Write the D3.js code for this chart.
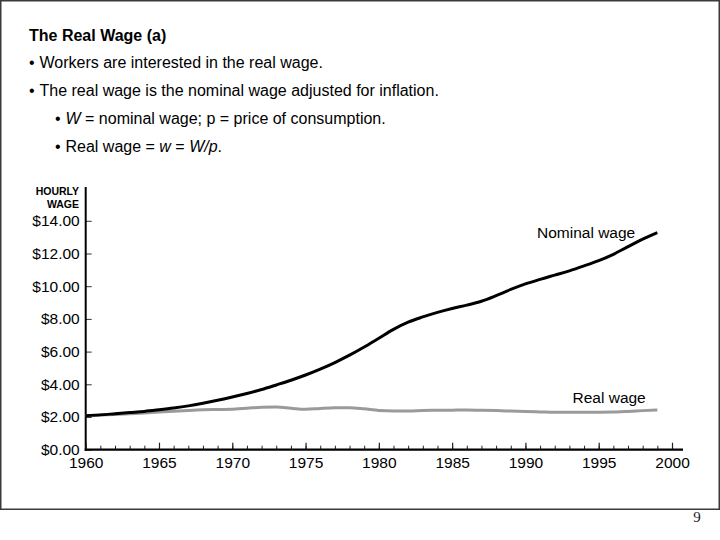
<!DOCTYPE html>
<html>
<head>
<meta charset="utf-8">
<script src="https://cdn.jsdelivr.net/npm/d3@7/dist/d3.min.js"></script>
<style>
  html, body { margin: 0; padding: 0; background: #fff; }
  svg { display: block; font-family: "Liberation Sans", Arial, Helvetica, sans-serif; }
</style>
</head>
<body>
<svg id="chart" width="720" height="540"></svg>
<script>
// ---- Data ----
const years = d3.range(1960, 2000); // 1960..1999
const nominalWage = [2.08, 2.13, 2.20, 2.27, 2.34, 2.44, 2.55, 2.68, 2.84, 3.02,
                     3.22, 3.44, 3.68, 3.96, 4.25, 4.57, 4.93, 5.33, 5.78, 6.28,
                     6.82, 7.36, 7.80, 8.12, 8.40, 8.64, 8.84, 9.08, 9.42, 9.80,
                     10.14, 10.42, 10.68, 10.94, 11.24, 11.56, 11.95, 12.42, 12.88, 13.28];
const realWage = [2.08, 2.12, 2.16, 2.20, 2.25, 2.30, 2.35, 2.40, 2.44, 2.46,
                  2.48, 2.53, 2.60, 2.61, 2.54, 2.47, 2.52, 2.56, 2.57, 2.50,
                  2.40, 2.37, 2.37, 2.40, 2.41, 2.42, 2.43, 2.41, 2.39, 2.36,
                  2.33, 2.31, 2.29, 2.29, 2.29, 2.29, 2.30, 2.34, 2.39, 2.43];
const yTicks = [0, 2, 4, 6, 8, 10, 12, 14];
const xMajorTicks = [1960, 1965, 1970, 1975, 1980, 1985, 1990, 1995, 2000];
const xMinorTicks = d3.range(1960, 2001);
const seriesLabels = ["Nominal wage", "Real wage"];

const svg = d3.select("#chart");

// Frame
svg.append("rect").attr("x", 0.75).attr("y", 0.75).attr("width", 718.5).attr("height", 508.5)
  .attr("fill", "none").attr("stroke", "#3a3a3a").attr("stroke-width", 1.5);

// Page number
svg.append("text").attr("x", 697).attr("y", 522).attr("text-anchor", "middle")
  .attr("font-family", "'Liberation Serif', 'DejaVu Serif', serif").attr("font-size", 15)
  .attr("fill", "#222").text("9");

// Title and bullets
svg.append("text").attr("x", 29).attr("y", 40.5).attr("font-size", 16).attr("font-weight", "bold")
  .text("The Real Wage (a)");

function bullet(x, y, parts) {
  svg.append("text").attr("x", x).attr("y", y).attr("font-size", 16).text("•");
  const t = svg.append("text").attr("x", x + 10.5).attr("y", y).attr("font-size", 16);
  parts.forEach(p => {
    t.append("tspan").attr("font-style", p.i ? "italic" : null).text(p.t);
  });
}
bullet(29, 68, [{t: "Workers are interested in the real wage."}]);
bullet(29, 96, [{t: "The real wage is the nominal wage adjusted for inflation."}]);
bullet(55, 124, [{t: "W", i: true}, {t: " = nominal wage; p = price of consumption."}]);
bullet(55, 151.5, [{t: "Real wage = "}, {t: "w", i: true}, {t: " = "}, {t: "W/p", i: true}, {t: "."}]);

// ---- Chart ----
const x = d3.scaleLinear().domain([1960, 2000]).range([85.7, 672]);
const y = d3.scaleLinear().domain([0, 14]).range([449.7, 220.8]);

// Y axis
const yAxis = d3.axisLeft(y).tickValues(yTicks).tickSizeInner(-6).tickSizeOuter(0).tickPadding(6)
  .tickFormat(d => "$" + d3.format(".2f")(d));
const gy = svg.append("g").attr("transform", `translate(${x(1960)},0)`).call(yAxis);
gy.select(".domain").remove();
gy.selectAll(".tick line").attr("stroke", "#333").attr("stroke-width", 1);
gy.selectAll(".tick text").attr("font-size", 15.5).attr("fill", "#000")
  .attr("font-family", "'Liberation Sans', Arial, sans-serif");
svg.append("line").attr("x1", x(1960)).attr("x2", x(1960)).attr("y1", 187).attr("y2", y(0) + 1)
  .attr("stroke", "#000").attr("stroke-width", 2);

// Y axis title
svg.append("text").attr("x", 79).attr("y", 195).attr("text-anchor", "end")
  .attr("font-size", 10.5).attr("font-weight", "bold").text("HOURLY");
svg.append("text").attr("x", 79).attr("y", 207.5).attr("text-anchor", "end")
  .attr("font-size", 10.5).attr("font-weight", "bold").text("WAGE");

// X axis: minor ticks
const gxMinor = svg.append("g").attr("transform", `translate(0,${y(0)})`)
  .call(d3.axisBottom(x).tickValues(xMinorTicks).tickSizeInner(-4).tickSizeOuter(0).tickFormat(""));
gxMinor.select(".domain").remove();
gxMinor.selectAll(".tick line").attr("stroke", "#222").attr("stroke-width", 1);

// X axis: major ticks + labels
const gx = svg.append("g").attr("transform", `translate(0,${y(0)})`)
  .call(d3.axisBottom(x).tickValues(xMajorTicks).tickSizeInner(-7).tickSizeOuter(0).tickPadding(7.5)
    .tickFormat(d3.format("d")));
gx.select(".domain").remove();
gx.selectAll(".tick line").attr("stroke", "#222").attr("stroke-width", 1.2);
gx.selectAll(".tick text").attr("font-size", 15.5).attr("fill", "#000")
  .attr("font-family", "'Liberation Sans', Arial, sans-serif");
svg.append("line").attr("x1", x(1960) - 1).attr("x2", 683).attr("y1", y(0)).attr("y2", y(0))
  .attr("stroke", "#000").attr("stroke-width", 2.2);

// Lines
const line = d3.line().x((d, i) => x(years[i])).y(d => y(d)).curve(d3.curveMonotoneX);
svg.append("path").datum(realWage).attr("d", line)
  .attr("fill", "none").attr("stroke", "#9a9a9a").attr("stroke-width", 3).attr("stroke-linejoin", "round");
svg.append("path").datum(nominalWage).attr("d", line)
  .attr("fill", "none").attr("stroke", "#000").attr("stroke-width", 3).attr("stroke-linejoin", "round");

// Series labels
svg.append("text").attr("x", 537).attr("y", 237.5).attr("font-size", 15.5).text(seriesLabels[0]);
svg.append("text").attr("x", 572.5).attr("y", 402.5).attr("font-size", 15.5).text(seriesLabels[1]);
</script>
</body>
</html>
